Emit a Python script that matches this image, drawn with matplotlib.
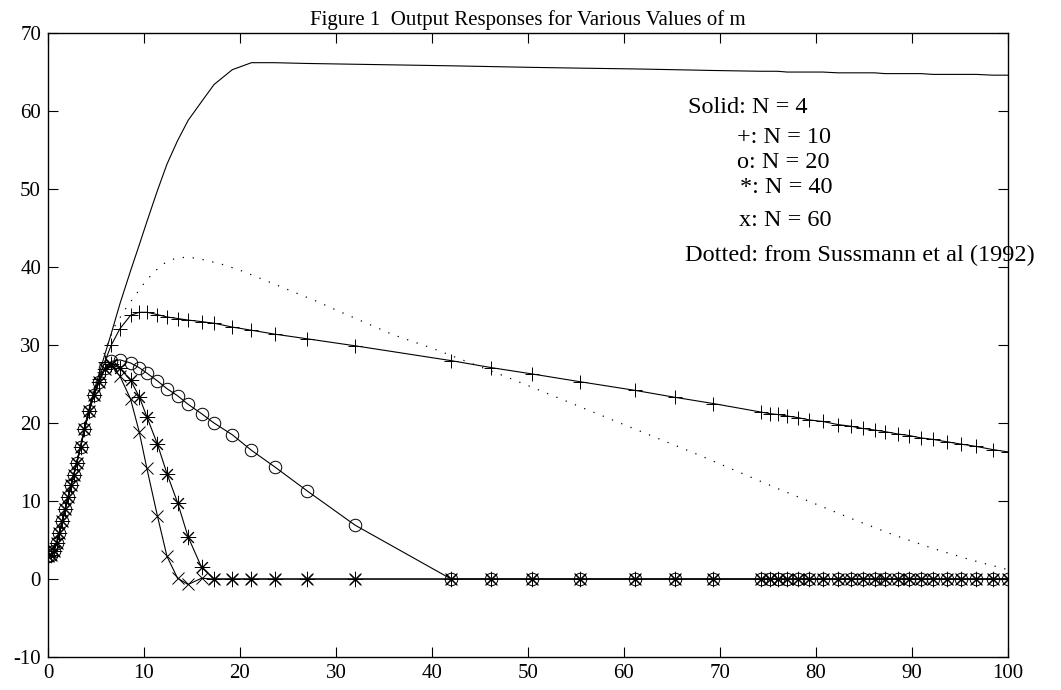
import matplotlib
matplotlib.use("Agg")
import matplotlib.pyplot as plt

# common time vector of the simulation
t = [0.0, 0.3, 0.6, 0.9, 1.2, 1.5, 1.8, 2.1, 2.4, 2.7, 3.0, 3.4, 3.8, 4.3, 4.8,
     5.3, 5.9, 6.6, 7.5, 8.6, 9.5, 10.3, 11.4, 12.4, 13.5, 14.6, 16.0, 17.3,
     19.2, 21.2, 23.6, 27.0, 32.0,
     42.0, 46.2, 50.4, 55.4, 61.1, 65.3, 69.3,
     74.3, 75.2, 76.0, 77.0, 78.1, 79.3, 80.7, 82.3, 83.6, 84.9, 86.1, 87.2,
     88.5, 89.7, 90.9, 92.2, 93.6, 95.1, 96.7, 98.4, 100.0]

n4 = [3.0, 3.1, 3.6, 4.6, 5.9, 7.4, 9.0, 10.5, 12.0, 13.5, 15.0, 17.1, 19.4, 21.9, 24.1,
      26.2, 28.7, 31.5, 35.3, 39.5, 42.8, 45.8, 49.8, 53.2, 56.2, 58.8, 61.2, 63.4,
      65.3, 66.2, 66.2, 66.1, 66.0,
      65.8, 65.7, 65.6, 65.5, 65.4, 65.3, 65.2,
      65.1, 65.1, 65.1, 65.0, 65.0, 65.0, 65.0, 64.9, 64.9, 64.9, 64.9, 64.8,
      64.8, 64.8, 64.8, 64.7, 64.7, 64.7, 64.7, 64.6, 64.6]

n10 = [3.0, 3.1, 3.6, 4.6, 5.9, 7.4, 9.0, 10.5, 12.0, 13.4, 14.9, 16.9, 19.2, 21.6, 23.6,
       25.6, 27.8, 30.0, 32.1, 33.8, 34.2, 34.2, 33.9, 33.6, 33.4, 33.2, 33.0, 32.8,
       32.3, 31.9, 31.4, 30.8, 29.9,
       28.0, 27.1, 26.3, 25.3, 24.2, 23.3, 22.5,
       21.4, 21.2, 21.1, 20.9, 20.7, 20.4, 20.2, 19.8, 19.6, 19.3, 19.1, 18.9,
       18.6, 18.4, 18.1, 17.9, 17.6, 17.3, 17.0, 16.6, 16.3]

n20 = [3.0, 3.1, 3.6, 4.6, 5.9, 7.4, 9.0, 10.5, 12.0, 13.4, 14.9, 16.9, 19.2, 21.6, 23.6,
       25.3, 27.0, 27.9, 28.1, 27.7, 27.1, 26.4, 25.4, 24.4, 23.5, 22.4, 21.2, 20.0,
       18.5, 16.5, 14.4, 11.3, 6.9,
       0.0, 0.0, 0.0, 0.0, 0.0, 0.0, 0.0,
       0.0, 0.0, 0.0, 0.0, 0.0, 0.0, 0.0, 0.0, 0.0, 0.0, 0.0, 0.0,
       0.0, 0.0, 0.0, 0.0, 0.0, 0.0, 0.0, 0.0, 0.0]

n40 = [3.0, 3.1, 3.6, 4.6, 5.9, 7.4, 9.0, 10.5, 12.0, 13.4, 14.9, 16.9, 19.2, 21.6, 23.6,
       25.2, 26.9, 27.6, 27.0, 25.5, 23.4, 20.8, 17.3, 13.5, 9.8, 5.4, 1.5, 0.0,
       0.0, 0.0, 0.0, 0.0, 0.0,
       0.0, 0.0, 0.0, 0.0, 0.0, 0.0, 0.0,
       0.0, 0.0, 0.0, 0.0, 0.0, 0.0, 0.0, 0.0, 0.0, 0.0, 0.0, 0.0,
       0.0, 0.0, 0.0, 0.0, 0.0, 0.0, 0.0, 0.0, 0.0]

n60 = [3.0, 3.1, 3.6, 4.6, 5.9, 7.4, 9.0, 10.5, 12.0, 13.4, 14.9, 16.9, 19.2, 21.6, 23.6,
       25.2, 26.9, 27.4, 26.0, 23.1, 18.9, 14.2, 8.1, 2.9, 0.1, -0.7, 0.1, 0.0,
       0.0, 0.0, 0.0, 0.0, 0.0,
       0.0, 0.0, 0.0, 0.0, 0.0, 0.0, 0.0,
       0.0, 0.0, 0.0, 0.0, 0.0, 0.0, 0.0, 0.0, 0.0, 0.0, 0.0, 0.0,
       0.0, 0.0, 0.0, 0.0, 0.0, 0.0, 0.0, 0.0, 0.0]

# Sussmann et al (1992) reference curve
t_ref = [0, 1, 2, 3, 4, 5, 6, 7, 8, 9, 10, 11, 12, 13, 14.5, 16, 18, 20, 22, 24,
         26, 28, 30, 33, 36, 40, 44, 48, 52, 56, 60, 64, 68, 72, 76, 80, 84, 88,
         92, 96, 100]
y_ref = [3.0, 5.0, 9.5, 15.0, 20.5, 25.5, 29.5, 32.5, 34.5, 36.2, 37.9, 39.3, 40.4,
         41.0, 41.3, 41.0, 40.4, 39.6, 38.6, 37.6, 36.6, 35.6, 34.5, 32.9, 31.3,
         29.6, 27.7, 25.8, 23.8, 21.8, 19.8, 17.8, 15.8, 13.7, 11.6, 9.6, 7.6, 5.7,
         4.0, 2.5, 1.2]

legend_lines = ["Solid: N = 4", "+: N = 10", "o: N = 20", "*: N = 40", "x: N = 60"]
legend_x = [0.667, 0.718, 0.718, 0.721, 0.720]
legend_y = [0.880, 0.833, 0.792, 0.752, 0.700]

plt.rcParams['font.family'] = ['Liberation Serif', 'DejaVu Serif']
plt.rcParams['axes.unicode_minus'] = False

fig = plt.figure(figsize=(10.61, 6.90), dpi=100)
ax = fig.add_axes([0.0452, 0.0478, 0.9048, 0.9043])

lw = 0.8
mew = 0.7
ax.plot(t, n4, color='black', linewidth=lw)
ax.plot(t, n10, color='black', linewidth=lw, marker='+', markersize=10, markeredgewidth=mew)
ax.plot(t, n20, color='black', linewidth=lw, marker='o', markersize=9,
        markerfacecolor='none', markeredgewidth=mew)
ax.plot(t, n40, color='black', linewidth=lw, marker=(8, 2, 0), markersize=11, markeredgewidth=mew)
ax.plot(t, n60, color='black', linewidth=lw, marker='x', markersize=9, markeredgewidth=mew)
ax.plot(t_ref, y_ref, color='black', linewidth=0.9, linestyle=(0, (1, 7)))

ax.set_xlim(0, 100)
ax.set_ylim(-10, 70)
ax.set_xticks(range(0, 101, 10))
ax.set_yticks(range(-10, 71, 10))
ax.tick_params(direction='in', length=7, width=0.8, top=True, right=True,
               labelsize=15, pad=5)
for s in ax.spines.values():
    s.set_linewidth(1.0)

ax.set_title("Figure 1  Output Responses for Various Values of m", fontsize=15, pad=6)

for label, lx, ly in zip(legend_lines, legend_x, legend_y):
    ax.text(lx, ly, label, transform=ax.transAxes, fontsize=17.5, va='center')
ax.text(0.664, 0.644, "Dotted: from Sussmann et al (1992)", transform=ax.transAxes,
        fontsize=17.5, va='center', clip_on=False)

fig.savefig("out.png", dpi=100)
